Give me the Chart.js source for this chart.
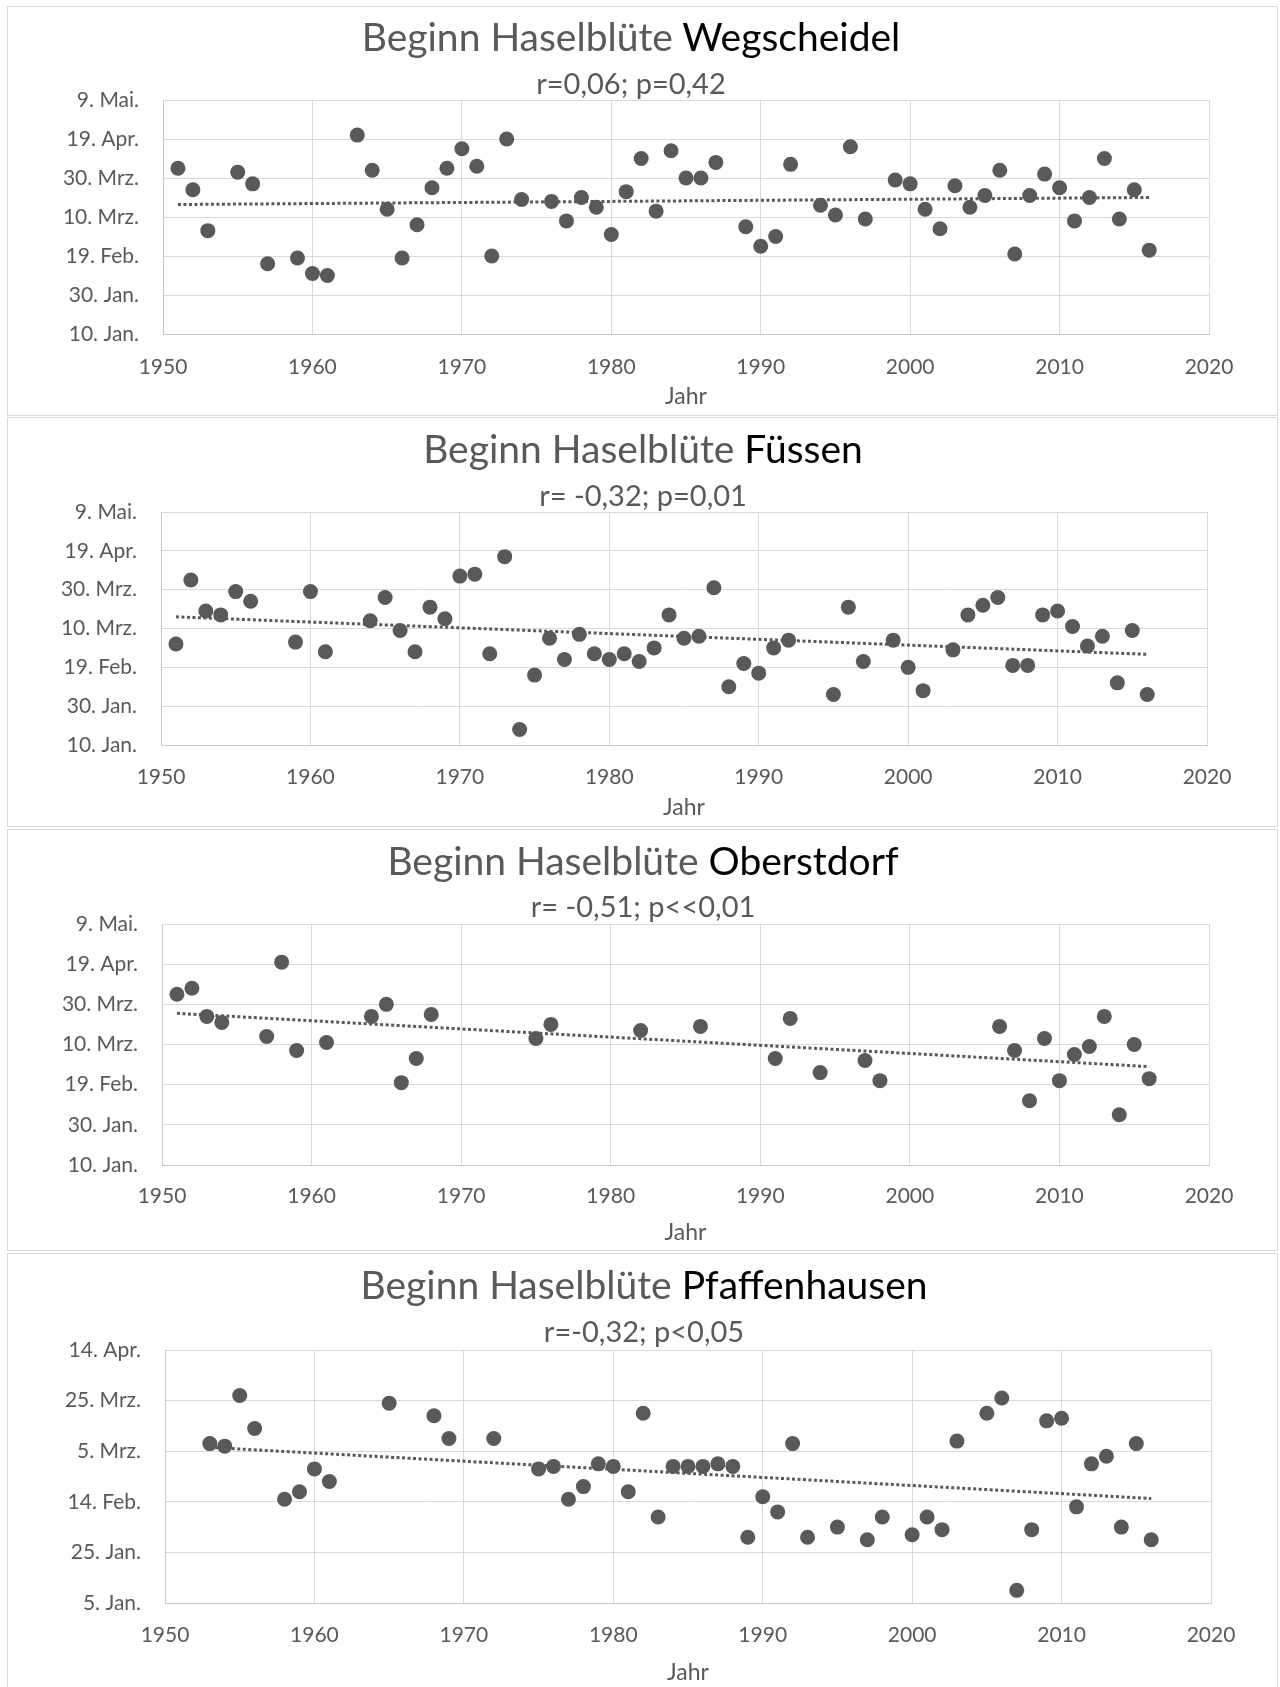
<!DOCTYPE html>
<html>
<head>
<meta charset="utf-8">
<script src="https://cdn.jsdelivr.net/npm/chart.js@4.4.1/dist/chart.umd.min.js"></script>
<style>
    body { margin: 0; background: #fff; width: 1280px; height: 1687px; position: relative; overflow: hidden; font-family: Lato, sans-serif; }
    .panel { position: absolute; left: 7px; width: 1271px; border: 1px solid #d9d9d9; box-sizing: border-box; }
    .panel canvas { position: absolute; left: -1px; top: -1px; }
    .title, .sub { position: absolute; width: 900px; text-align: center; color: #595959; white-space: nowrap; line-height: 1; }
    .title { font-size: 39px; }
    .title span { color: #000; }
    .sub { font-size: 29px; }
</style>
</head>
<body>
<script>
// Jahre und Blühbeginn (Tag im Jahr, Excel-Zählung) je Station
const years1 = [1951, 1952, 1953, 1955, 1956, 1957, 1959, 1960, 1961, 1963, 1964, 1965, 1966, 1967, 1968, 1969, 1970, 1971, 1972, 1973, 1974, 1976, 1977, 1978, 1979, 1980, 1981, 1982, 1983, 1984, 1985, 1986, 1987, 1989, 1990, 1991, 1992, 1994, 1995, 1996, 1997, 1999, 2000, 2001, 2002, 2003, 2004, 2005, 2006, 2007, 2008, 2009, 2010, 2011, 2012, 2013, 2014, 2015, 2016];
const days1 = [95, 84, 63, 93, 87, 46, 49, 41, 40, 112, 94, 74, 49, 66, 85, 95, 105, 96, 50, 110, 79, 78, 68, 80, 75, 61, 83, 100, 73, 104, 90, 90, 98, 65, 55, 60, 97, 76, 71, 106, 69, 89, 87, 74, 64, 86, 75, 81, 94, 51, 81, 92, 85, 68, 80, 100, 69, 84, 53];

const years2 = [1951, 1952, 1953, 1954, 1955, 1956, 1959, 1960, 1961, 1964, 1965, 1966, 1967, 1968, 1969, 1970, 1971, 1972, 1973, 1974, 1975, 1976, 1977, 1978, 1979, 1980, 1981, 1982, 1983, 1984, 1985, 1986, 1987, 1988, 1989, 1990, 1991, 1992, 1995, 1996, 1997, 1999, 2000, 2001, 2003, 2004, 2005, 2006, 2007, 2008, 2009, 2010, 2011, 2012, 2013, 2014, 2015, 2016];
const days2 = [62, 95, 79, 77, 89, 84, 63, 89, 58, 74, 86, 69, 58, 81, 75, 97, 98, 57, 107, 18, 46, 65, 54, 67, 57, 54, 57, 53, 60, 77, 65, 66, 91, 40, 52, 47, 60, 64, 36, 81, 53, 64, 50, 38, 59, 77, 82, 86, 51, 51, 77, 79, 71, 61, 66, 42, 69, 36];

const years3 = [1951, 1952, 1953, 1954, 1957, 1958, 1959, 1961, 1964, 1965, 1966, 1967, 1968, 1975, 1976, 1982, 1986, 1991, 1992, 1994, 1997, 1998, 2006, 2007, 2008, 2009, 2010, 2011, 2012, 2013, 2014, 2015, 2016];
const days3 = [95, 98, 84, 81, 74, 111, 67, 71, 84, 90, 51, 63, 85, 73, 80, 77, 79, 63, 83, 56, 62, 52, 79, 67, 42, 73, 52, 65, 69, 84, 35, 70, 53];

const years4 = [1953, 1954, 1955, 1956, 1958, 1959, 1960, 1961, 1965, 1968, 1969, 1972, 1975, 1976, 1977, 1978, 1979, 1980, 1981, 1982, 1983, 1984, 1985, 1986, 1987, 1988, 1989, 1990, 1991, 1992, 1993, 1995, 1997, 1998, 2000, 2001, 2002, 2003, 2005, 2006, 2007, 2008, 2009, 2010, 2011, 2012, 2013, 2014, 2015, 2016];
const days4 = [68, 67, 87, 74, 46, 49, 58, 53, 84, 79, 70, 70, 58, 59, 46, 51, 60, 59, 49, 80, 39, 59, 59, 59, 60, 59, 31, 47, 41, 68, 31, 35, 30, 39, 32, 39, 34, 69, 80, 86, 10, 34, 77, 78, 43, 60, 63, 35, 68, 30];

// lineare Trendlinien (Anfang / Ende)
const trendYears1 = [1951, 2016];
const trendDays1 = [76.4, 80];
const trendYears2 = [1951, 2016];
const trendDays2 = [76, 56.7];
const trendYears3 = [1951, 2016];
const trendDays3 = [85.5, 59];
const trendYears4 = [1953, 2016];
const trendDays4 = [66.5, 46.3];

// Achsen
const xTicks = [1950, 1960, 1970, 1980, 1990, 2000, 2010, 2020];
const yValuesA = [10, 30, 50, 70, 90, 110, 130];
const yLabelsA = ["10. Jan.", "30. Jan.", "19. Feb.", "10. Mrz.", "30. Mrz.", "19. Apr.", "9. Mai."];
const yValuesB = [5, 25, 45, 65, 85, 105];
const yLabelsB = ["5. Jan.", "25. Jan.", "14. Feb.", "5. Mrz.", "25. Mrz.", "14. Apr."];

const stations = ["Wegscheidel", "Füssen", "Oberstdorf", "Pfaffenhausen"];
const stats = ["r=0,06; p=0,42", "r= -0,32; p=0,01", "r= -0,51; p<<0,01", "r=-0,32; p<0,05"];

// Lage der Diagramme auf der Seite (px)
const layouts = [
    { top: 6, bottom: 416, plotTop: 100, plotBottom: 334, plotLeft: 163, plotRight: 1209, labelMid: 367, jahrMid: 397, titleMid: 38, subMid: 84, titleX: 631 },
    { top: 417, bottom: 827, plotTop: 512, plotBottom: 745, plotLeft: 161, plotRight: 1207, labelMid: 777, jahrMid: 808, titleMid: 450, subMid: 496, titleX: 643 },
    { top: 829, bottom: 1251, plotTop: 924, plotBottom: 1165, plotLeft: 162, plotRight: 1209, labelMid: 1196, jahrMid: 1233, titleMid: 862, subMid: 907, titleX: 643 },
    { top: 1253, bottom: 1700, plotTop: 1350, plotBottom: 1603, plotLeft: 165, plotRight: 1211, labelMid: 1635, jahrMid: 1673, titleMid: 1286, subMid: 1332, titleX: 644 }
];

const series = [
    { years: years1, days: days1, tYears: trendYears1, tDays: trendDays1, yValues: yValuesA, yLabels: yLabelsA },
    { years: years2, days: days2, tYears: trendYears2, tDays: trendDays2, yValues: yValuesA, yLabels: yLabelsA },
    { years: years3, days: days3, tYears: trendYears3, tDays: trendDays3, yValues: yValuesA, yLabels: yLabelsA },
    { years: years4, days: days4, tYears: trendYears4, tDays: trendDays4, yValues: yValuesB, yLabels: yLabelsB }
];

const grey = "#595959";
const tickSize = 21;
const jahrSize = 23;

function drawPanel(i) {
    const L = layouts[i];
    const s = series[i];
    const h = L.bottom - L.top;

    const panel = document.createElement("div");
    panel.className = "panel";
    panel.style.top = L.top + "px";
    panel.style.height = h + "px";
    document.body.appendChild(panel);

    const canvas = document.createElement("canvas");
    canvas.width = 1271;
    canvas.height = h;
    panel.appendChild(canvas);

    const title = document.createElement("div");
    title.className = "title";
    title.innerHTML = "Beginn Haselblüte <span>" + stations[i] + "</span>";
    title.style.left = (L.titleX - 450) + "px";
    title.style.top = (L.titleMid - 39 * 0.55) + "px";
    document.body.appendChild(title);

    const sub = document.createElement("div");
    sub.className = "sub";
    sub.textContent = stats[i];
    sub.style.left = (L.titleX - 450) + "px";
    sub.style.top = (L.subMid - 29 * 0.55) + "px";
    document.body.appendChild(sub);

    const yMin = s.yValues[0];
    const yMax = s.yValues[s.yValues.length - 1];

    new Chart(canvas, {
        type: "scatter",
        data: {
            datasets: [
                {
                    type: "line",
                    data: s.tYears.map((y, k) => ({ x: y, y: s.tDays[k] })),
                    borderColor: grey,
                    borderWidth: 3,
                    borderDash: [3, 2.5],
                    pointRadius: 0,
                    fill: false,
                    order: 0
                },
                {
                    data: s.years.map((y, k) => ({ x: y, y: s.days[k] })),
                    pointRadius: 7.5,
                    pointHoverRadius: 7.5,
                    pointBackgroundColor: grey,
                    pointBorderWidth: 0,
                    order: 1
                }
            ]
        },
        options: {
            responsive: false,
            animation: false,
            devicePixelRatio: 1,
            layout: { padding: { top: L.plotTop - L.top, right: 1278 - L.plotRight, left: 0, bottom: 0 } },
            plugins: { legend: { display: false }, tooltip: { enabled: false } },
            scales: {
                x: {
                    type: "linear",
                    min: 1950,
                    max: 2020,
                    afterBuildTicks: sc => { sc.ticks = xTicks.map(v => ({ value: v })); },
                    afterFit: sc => { sc.height = L.bottom - L.plotBottom; },
                    ticks: {
                        callback: (v, k) => String(xTicks[k]),
                        color: grey,
                        font: { family: "Lato", size: tickSize },
                        padding: L.labelMid - L.plotBottom - tickSize * 0.6,
                        maxRotation: 0
                    },
                    grid: { color: "#d9d9d9", drawTicks: false },
                    border: { color: "#c8c8c8" },
                    title: {
                        display: true,
                        text: "Jahr",
                        color: grey,
                        font: { family: "Lato", size: jahrSize },
                        padding: { top: 0, bottom: L.bottom - L.jahrMid - jahrSize * 0.6 }
                    }
                },
                y: {
                    type: "linear",
                    min: yMin,
                    max: yMax,
                    afterBuildTicks: sc => { sc.ticks = s.yValues.map(v => ({ value: v })); },
                    afterFit: sc => { sc.width = L.plotLeft - 7; },
                    ticks: {
                        callback: (v, k) => s.yLabels[k],
                        color: grey,
                        font: { family: "Lato", size: tickSize },
                        padding: 24
                    },
                    grid: { color: "#d9d9d9", drawTicks: false },
                    border: { color: "#c8c8c8" }
                }
            }
        }
    });
}

for (let i = 0; i < 4; i++) drawPanel(i);
</script>
</body>
</html>
